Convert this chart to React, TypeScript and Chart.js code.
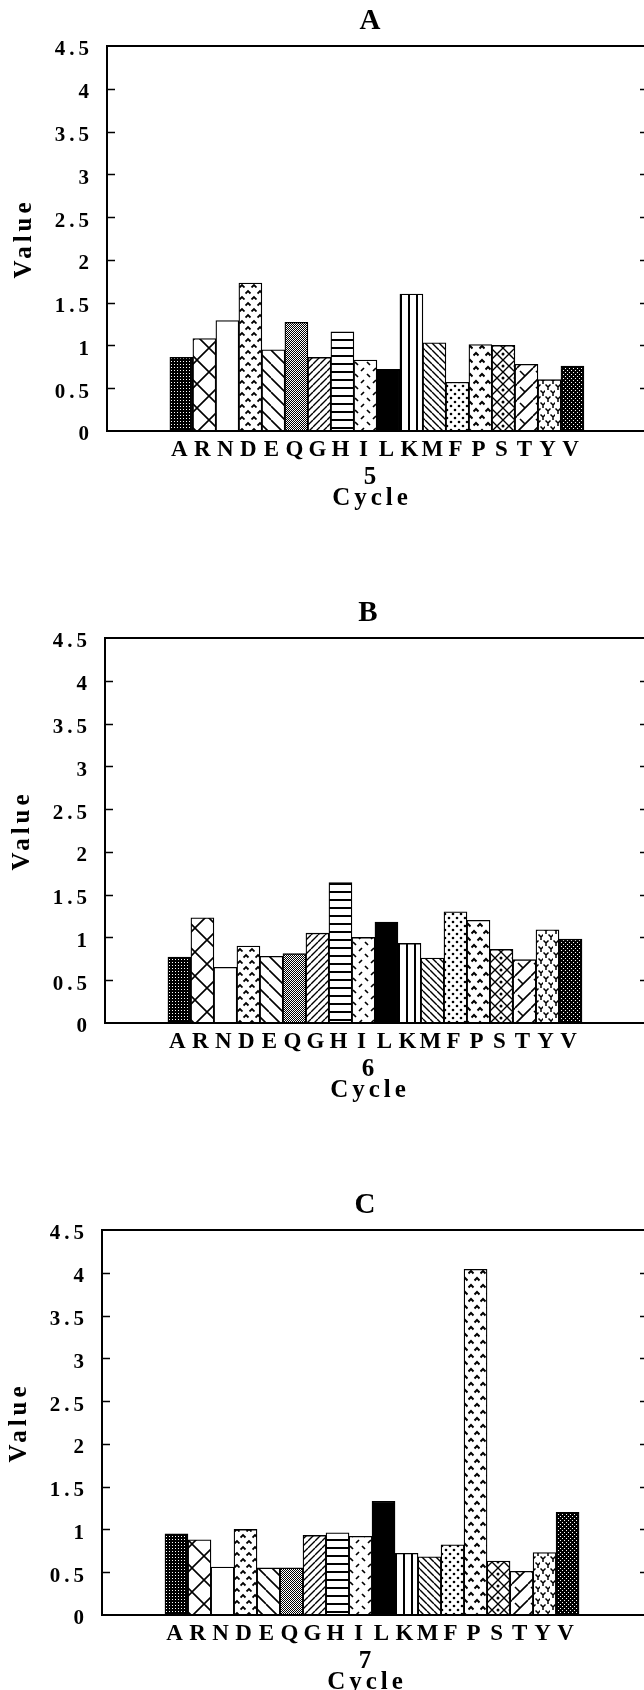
import React, { useEffect, useRef } from 'react';
import { Chart, registerables } from 'chart.js';

Chart.register(...registerables);

// ---------------- data ----------------
const AMINO_ACIDS = ['A', 'R', 'N', 'D', 'E', 'Q', 'G', 'H', 'I', 'L', 'K', 'M', 'F', 'P', 'S', 'T', 'Y', 'V'];
const CYCLE_5_VALUES = [0.86, 1.08, 1.29, 1.73, 0.95, 1.27, 0.86, 1.16, 0.83, 0.72, 1.6, 1.03, 0.57, 1.01, 1.0, 0.78, 0.6, 0.76];
const CYCLE_6_VALUES = [0.77, 1.23, 0.65, 0.9, 0.78, 0.81, 1.05, 1.64, 1.0, 1.18, 0.93, 0.76, 1.3, 1.2, 0.86, 0.74, 1.09, 0.98];
const CYCLE_7_VALUES = [0.95, 0.88, 0.56, 1.0, 0.55, 0.55, 0.93, 0.96, 0.92, 1.33, 0.72, 0.68, 0.82, 4.04, 0.63, 0.51, 0.73, 1.2];
const PANEL_LETTERS = ['A', 'B', 'C'];
const CYCLE_NUMBERS = ['5', '6', '7'];
const Y_MIN = 0;
const Y_MAX = 4.5;
const Y_STEP = 0.5;
const Y_TITLE = 'Value';
const X_TITLE = 'Cycle';

// ---------------- layout / style ----------------
const CANVAS_W = 734;
const CANVAS_H = 592;
const PANEL_SHIFTS = [5, 3, 0];
const PANEL_TOPS = [0, 592, 1184];
const AXIS_LEFT = 102;
const RIGHT_EDGE_ABS = 647;
const BAR_PX = 24.1;
const FIRST_BAR_GAP = 53;
const FONT = "'Liberation Serif', 'Times New Roman', serif";

type Fill = string | CanvasPattern;

function tile(w: number, h: number, draw: (c: CanvasRenderingContext2D) => void): Fill {
  const cv = document.createElement('canvas');
  cv.width = w;
  cv.height = h;
  const c = cv.getContext('2d')!;
  c.fillStyle = '#fff';
  c.fillRect(0, 0, w, h);
  c.strokeStyle = '#000';
  c.fillStyle = '#000';
  c.lineWidth = 1.5;
  draw(c);
  return c.createPattern(cv, 'repeat')!;
}

function diag(c: CanvasRenderingContext2D, s: number, back: boolean, lw: number) {
  c.lineWidth = lw;
  c.beginPath();
  for (const k of [-1, 0, 1]) {
    if (back) {
      c.moveTo(k * s, 0);
      c.lineTo(k * s + s, s);
    } else {
      c.moveTo(k * s, s);
      c.lineTo(k * s + s, 0);
    }
  }
  c.stroke();
}

function caret(c: CanvasRenderingContext2D, x: number, y: number, r: number) {
  c.beginPath();
  c.moveTo(x - r, y + r);
  c.lineTo(x, y);
  c.lineTo(x + r, y + r);
  c.stroke();
}

function yGlyph(c: CanvasRenderingContext2D, x: number, y: number) {
  c.beginPath();
  c.moveTo(x - 2.5, y - 2.5);
  c.lineTo(x, y);
  c.lineTo(x + 2.5, y - 2.5);
  c.moveTo(x, y);
  c.lineTo(x, y + 3);
  c.stroke();
}

function makeFills(): Fill[] {
  return [
    // A: dark stipple
    tile(3, 3, (c) => { c.fillRect(0, 0, 3, 3); c.fillStyle = '#fff'; c.fillRect(1, 1, 1, 1); }),
    // R: lattice
    tile(24, 24, (c) => {
      c.lineWidth = 1.6;
      c.beginPath();
      c.moveTo(0, 0); c.lineTo(24, 24);
      c.moveTo(24, 0); c.lineTo(0, 24);
      c.stroke();
    }),
    // N: plain
    '#ffffff',
    // D: carets
    tile(12, 12, (c) => { c.lineWidth = 1.8; caret(c, 3, 3, 2.5); caret(c, 9, 9, 2.5); }),
    // E: wide backslash
    tile(14, 14, (c) => diag(c, 14, true, 1.6)),
    // Q: checker
    tile(2, 2, (c) => { c.fillRect(0, 0, 1, 1); c.fillRect(1, 1, 1, 1); }),
    // G: dense slash
    tile(7, 7, (c) => diag(c, 7, false, 1.4)),
    // H: horizontal lines
    tile(8, 8, (c) => c.fillRect(0, 3, 8, 2)),
    // I: short dashes
    tile(12, 12, (c) => {
      c.lineWidth = 1.7;
      c.beginPath();
      c.moveTo(2, 2); c.lineTo(5, 5);
      c.moveTo(8, 11); c.lineTo(11, 8);
      c.stroke();
    }),
    // L: solid
    '#000000',
    // K: vertical lines
    tile(8, 8, (c) => c.fillRect(3, 0, 2, 8)),
    // M: dense backslash
    tile(7, 7, (c) => diag(c, 7, true, 1.4)),
    // F: dots
    tile(8, 8, (c) => {
      c.beginPath(); c.arc(2, 2, 1.3, 0, Math.PI * 2); c.fill();
      c.beginPath(); c.arc(6, 6, 1.3, 0, Math.PI * 2); c.fill();
    }),
    // P: carets (bolder)
    tile(12, 14, (c) => { c.lineWidth = 2; caret(c, 3, 3, 2.5); caret(c, 9, 10, 2.5); }),
    // S: diamonds with dots
    tile(12, 12, (c) => {
      c.lineWidth = 1.4;
      c.beginPath();
      c.moveTo(6, 0); c.lineTo(12, 6); c.lineTo(6, 12); c.lineTo(0, 6); c.closePath();
      c.stroke();
      c.beginPath(); c.arc(6, 6, 1.5, 0, Math.PI * 2); c.fill();
    }),
    // T: herringbone
    tile(16, 16, (c) => {
      diag(c, 16, false, 1.6);
      c.beginPath();
      c.moveTo(3, 3); c.lineTo(8, 8);
      c.stroke();
    }),
    // Y: Y glyphs
    tile(10, 12, (c) => { c.lineWidth = 1.5; yGlyph(c, 3, 3); yGlyph(c, 8, 9); }),
    // V: dark stipple 2
    tile(4, 4, (c) => { c.fillRect(0, 0, 4, 4); c.fillStyle = '#fff'; c.fillRect(0, 0, 1, 1); c.fillRect(2, 2, 1, 1); }),
  ];
}

const framePlugin = {
  id: 'frame',
  beforeDraw(chart: any) {
    chart.ctx.letterSpacing = '4px';
  },
  afterDraw(chart: any) {
    const { ctx, chartArea } = chart;
    const { left, right, top, bottom } = chartArea;
    const y = chart.scales.y;
    ctx.save();
    ctx.letterSpacing = '0px';
    ctx.strokeStyle = '#000';
    ctx.lineWidth = 2;
    ctx.beginPath();
    ctx.moveTo(left - 1, top);
    ctx.lineTo(right, top);
    ctx.lineTo(right, bottom);
    ctx.stroke();
    ctx.lineWidth = 1.6;
    ctx.beginPath();
    for (const t of y.ticks) {
      if (t.value <= y.min || t.value >= y.max) continue;
      const py = Math.round(y.getPixelForValue(t.value)) + 0.5;
      ctx.moveTo(left, py);
      ctx.lineTo(left + 8, py);
      ctx.moveTo(right - 7, py);
      ctx.lineTo(right, py);
    }
    ctx.stroke();
    ctx.restore();
  },
};

function Panel({ values, letter, cycle, shift, top }: { values: number[]; letter: string; cycle: string; shift: number; top: number }) {
  const ref = useRef<HTMLCanvasElement>(null);
  useEffect(() => {
    const chartRight = RIGHT_EDGE_ABS - shift;
    const xMin = -(FIRST_BAR_GAP + BAR_PX / 2) / BAR_PX;
    const xMax = xMin + (chartRight - AXIS_LEFT) / BAR_PX;
    const fills = makeFills();
    const chart = new Chart(ref.current!, {
      type: 'bar',
      data: {
        datasets: [
          {
            data: values.map((v, i) => ({ x: i, y: v })),
            backgroundColor: fills as any,
            borderColor: '#000',
            borderWidth: 1.3,
            borderSkipped: 'start',
            barPercentage: 1,
            categoryPercentage: 1,
          },
        ],
      },
      plugins: [framePlugin],
      options: {
        animation: false,
        responsive: false,
        devicePixelRatio: 1,
        events: [],
        layout: { padding: 0 },
        plugins: {
          legend: { display: false },
          tooltip: { enabled: false },
          title: {
            display: true,
            text: letter,
            color: '#000',
            font: { family: FONT, size: 29, weight: 'bold', lineHeight: 1.1 },
            padding: { top: 6.05, bottom: 8.05 },
          },
          subtitle: {
            display: true,
            position: 'bottom',
            text: [cycle, X_TITLE],
            color: '#000',
            font: { family: FONT, size: 25, weight: 'bold', lineHeight: 0.84 },
            padding: { top: 6, bottom: 83 },
          },
        },
        scales: {
          x: {
            type: 'linear',
            min: xMin,
            max: xMax,
            grid: { display: false, drawTicks: false },
            border: { display: true, color: '#000', width: 2, z: 1 },
            ticks: {
              stepSize: 1,
              autoSkip: false,
              includeBounds: false,
              maxRotation: 0,
              minRotation: 0,
              padding: 5.2,
              color: '#000',
              font: { family: FONT, size: 23, weight: 'bold' },
              callback: (v: any) => {
                const n = Number(v);
                const r = Math.round(n);
                if (Math.abs(n - r) > 1e-6 || r < 0 || r >= AMINO_ACIDS.length) return '';
                return AMINO_ACIDS[r];
              },
            },
            afterFit: (s: any) => {
              s.height = 30;
            },
          },
          y: {
            min: Y_MIN,
            max: Y_MAX,
            grid: { display: false, drawTicks: false },
            border: { display: true, color: '#000', width: 2, z: 1 },
            ticks: {
              stepSize: Y_STEP,
              padding: 14,
              labelOffset: 4,
              color: '#000',
              font: { family: FONT, size: 21, weight: 'bold' },
              callback: (v: any) => String(Number(v)),
            },
            title: {
              display: true,
              text: Y_TITLE,
              color: '#000',
              font: { family: FONT, size: 25, weight: 'bold', lineHeight: 1.2 },
              padding: { top: 5, bottom: 0 },
            },
            afterFit: (s: any) => {
              s.width = AXIS_LEFT;
            },
          },
          yRight: {
            position: 'right',
            min: Y_MIN,
            max: Y_MAX,
            grid: { display: false, drawTicks: false },
            border: { display: false },
            ticks: { display: false },
            afterFit: (s: any) => {
              s.width = CANVAS_W - chartRight;
            },
          },
        },
      } as any,
    });
    return () => chart.destroy();
  }, [values, letter, cycle, shift]);
  return (
    <canvas
      ref={ref}
      width={CANVAS_W}
      height={CANVAS_H}
      style={{ position: 'absolute', left: shift, top, width: CANVAS_W, height: CANVAS_H }}
    />
  );
}

const PANEL_VALUES = [CYCLE_5_VALUES, CYCLE_6_VALUES, CYCLE_7_VALUES];

export default function App() {
  return (
    <div
      style={{
        position: 'absolute',
        left: 0,
        top: 0,
        width: 644,
        height: 1690,
        overflow: 'hidden',
        background: '#fff',
      }}
    >
      {PANEL_VALUES.map((vals, i) => (
        <Panel
          key={PANEL_LETTERS[i]}
          values={vals}
          letter={PANEL_LETTERS[i]}
          cycle={CYCLE_NUMBERS[i]}
          shift={PANEL_SHIFTS[i]}
          top={PANEL_TOPS[i]}
        />
      ))}
    </div>
  );
}
